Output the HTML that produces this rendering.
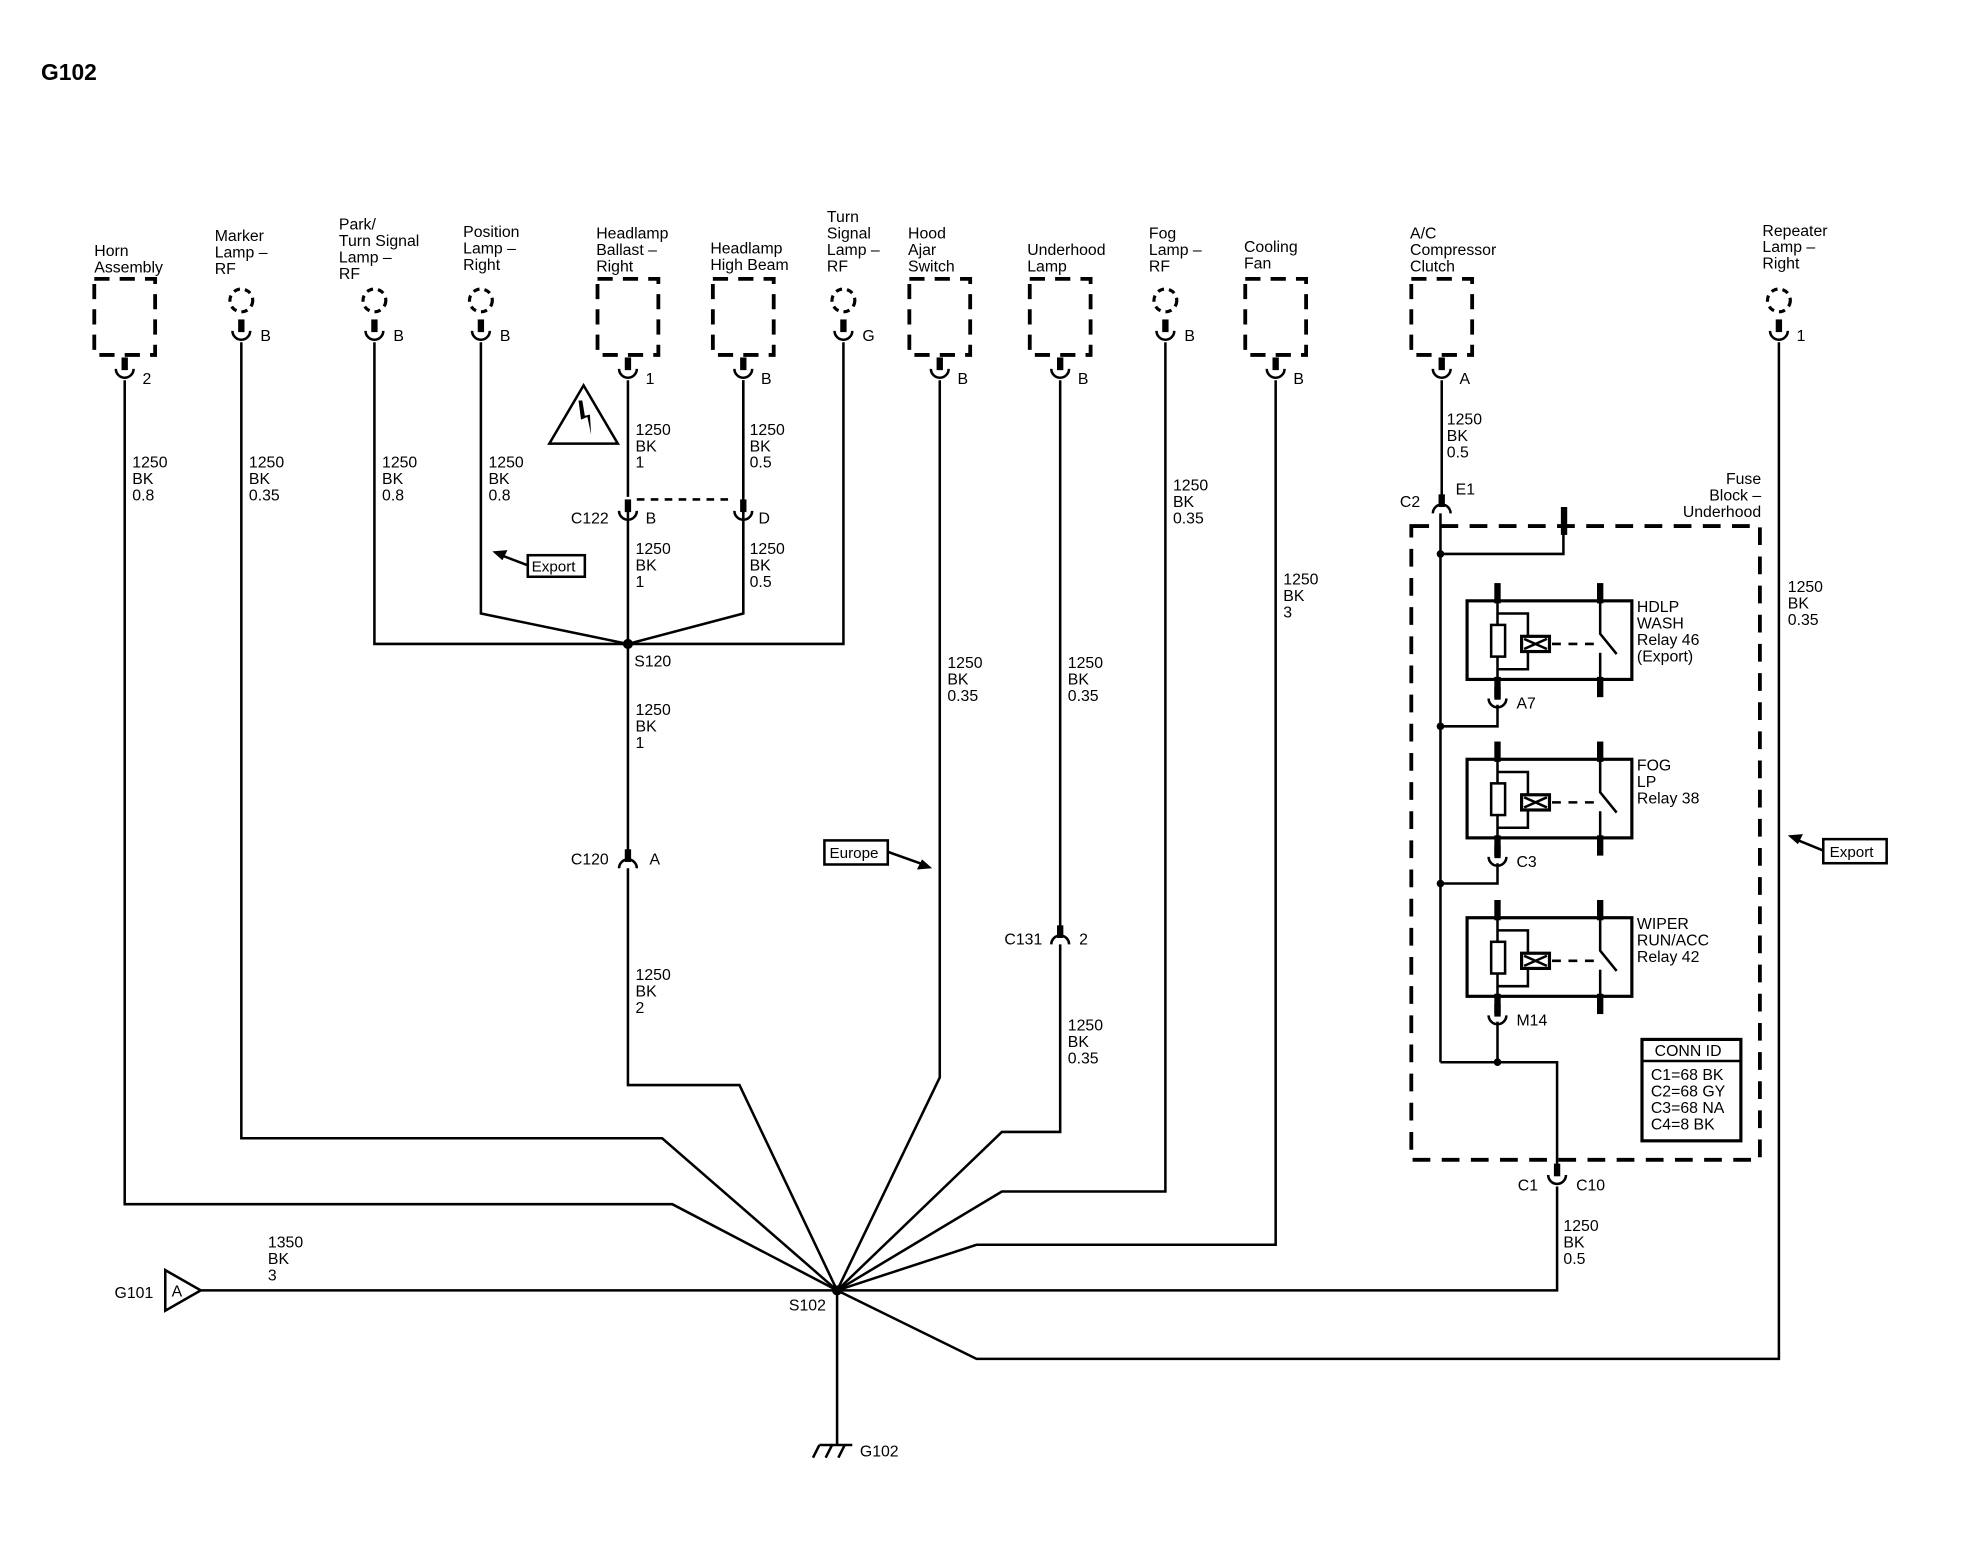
<!DOCTYPE html>
<html><head><meta charset="utf-8"><style>
html,body{margin:0;padding:0;background:#fff}
svg{display:block}
text{font-family:"Liberation Sans",Arial,sans-serif;font-size:12.5px;fill:#000}
</style></head><body>
<svg width="1986" height="1568" viewBox="0 0 1566 1237" xmlns="http://www.w3.org/2000/svg">
<defs>
<g id="cup"><rect x="-2.5" y="-12" width="5" height="10" fill="#000"/><path d="M-7,-3 A7,7 0 0 0 7,-3" fill="none" stroke="#000" stroke-width="2"/></g>
<g id="ilc"><path d="M-7,5 A7,7 0 0 1 7,5" fill="none" stroke="#000" stroke-width="2"/><rect x="-2.5" y="-10" width="5" height="10" fill="#000"/></g>
<g id="dbox"><rect x="-24" y="0" width="48" height="60" fill="none" stroke="#000" stroke-width="3" stroke-dasharray="12,8"/></g>
<g id="lamp"><circle cx="0" cy="0" r="9" fill="none" stroke="#000" stroke-width="2.5" stroke-dasharray="5,4"/></g>
</defs>
<text x="32" y="63" style="font-size:18px;font-weight:bold">G102</text>
<g stroke="#000" stroke-width="2" fill="none">
<polyline points="98,300 98,950 530,950 660,1018"/>
<polyline points="190,270 190,898 522,898 660,1018"/>
<polyline points="295,270 295,508 665,508 665,270"/>
<polyline points="379,270 379,484 495,508"/>
<polyline points="586,300 586,484 495,508"/>
<line x1="495" y1="300" x2="495" y2="392"/>
<line x1="586" y1="300" x2="586" y2="392"/>
<line x1="495" y1="400" x2="495" y2="675"/>
<line x1="586" y1="400" x2="586" y2="484"/>
<line x1="502" y1="394" x2="578" y2="394" stroke-dasharray="6,5"/>
<polyline points="495,685 495,856 583,856 660,1018"/>
<polyline points="741,300 741,850 660,1018"/>
<polyline points="836,300 836,734"/>
<polyline points="836,745 836,893 790,893 660,1018"/>
<polyline points="919,270 919,940 790,940 660,1018"/>
<polyline points="1006,300 1006,982 770,982 660,1018"/>
<polyline points="1403,270 1403,1072 770,1072 660,1018"/>
<polyline points="158,1018 1228,1018 1228,936"/>
<line x1="660" y1="1018" x2="660" y2="1140"/>
<line x1="1137" y1="300" x2="1137" y2="395"/>
<rect x="1113" y="415" width="275" height="500" stroke-width="3" stroke-dasharray="14,9"/>
<line x1="1136" y1="405" x2="1136" y2="838"/>
<polyline points="1136,437 1233,437 1233,403"/>
<polyline points="1181,556 1181,573 1136,573"/>
<polyline points="1181,681 1181,697 1136,697"/>
<polyline points="1181,806 1181,838 1136,838"/>
<polyline points="1181,838 1228,838 1228,922"/>
</g>
<g fill="#000">
<circle cx="495" cy="508" r="4"/><circle cx="660" cy="1018" r="4"/>
<circle cx="1136" cy="437" r="3"/><circle cx="1136" cy="573" r="3"/><circle cx="1136" cy="697" r="3"/><circle cx="1181" cy="838" r="3"/>
<rect x="1231" y="400" width="5" height="22"/>
</g>
<use href="#dbox" x="98" y="220"/><use href="#dbox" x="495" y="220"/><use href="#dbox" x="586" y="220"/>
<use href="#dbox" x="741" y="220"/><use href="#dbox" x="836" y="220"/><use href="#dbox" x="1006" y="220"/><use href="#dbox" x="1137" y="220"/>
<use href="#cup" x="98" y="294"/><use href="#cup" x="495" y="294"/><use href="#cup" x="586" y="294"/>
<use href="#cup" x="741" y="294"/><use href="#cup" x="836" y="294"/><use href="#cup" x="1006" y="294"/><use href="#cup" x="1137" y="294"/>
<use href="#lamp" x="190" y="237"/><use href="#lamp" x="295" y="237"/><use href="#lamp" x="379" y="237"/><use href="#lamp" x="665" y="237"/><use href="#lamp" x="919" y="237"/><use href="#lamp" x="1403" y="237"/>
<use href="#cup" x="190" y="264"/><use href="#cup" x="295" y="264"/><use href="#cup" x="379" y="264"/><use href="#cup" x="665" y="264"/><use href="#cup" x="919" y="264"/><use href="#cup" x="1403" y="264"/>
<use href="#cup" x="495" y="406"/><use href="#cup" x="586" y="406"/>
<use href="#ilc" x="495" y="680"/><use href="#ilc" x="836" y="740"/><use href="#ilc" x="1137" y="400"/>
<use href="#cup" x="1228" y="930"/>
<use href="#cup" x="1181" y="554"/><use href="#cup" x="1181" y="679"/><use href="#cup" x="1181" y="804"/>
<g id="relay" stroke="#000" fill="none">
<rect x="1157" y="474" width="130" height="62" stroke-width="2.5"/>
<line x1="1181" y1="460" x2="1181" y2="476" stroke-width="5"/>
<line x1="1181" y1="534" x2="1181" y2="550" stroke-width="5"/>
<line x1="1262" y1="460" x2="1262" y2="476" stroke-width="5"/>
<line x1="1262" y1="534" x2="1262" y2="550" stroke-width="5"/>
<line x1="1181" y1="474" x2="1181" y2="536" stroke-width="2"/>
<rect x="1176" y="493" width="11" height="25" fill="#fff" stroke-width="2"/>
<polyline points="1181,484 1205,484 1205,528 1181,528" stroke-width="2"/>
<rect x="1200" y="502" width="22" height="12" fill="#fff" stroke-width="2.5"/>
<path d="M1202,504 L1220,512 M1202,512 L1220,504" stroke-width="2"/>
<line x1="1224" y1="508" x2="1258" y2="508" stroke-width="2" stroke-dasharray="7,6"/>
<polyline points="1262,474 1262,500 1275,516" stroke-width="2"/>
<line x1="1262" y1="515" x2="1262" y2="536" stroke-width="2"/>
</g>
<use href="#relay" y="125"/><use href="#relay" y="250"/>
<rect x="1295" y="820" width="78" height="80" fill="none" stroke="#000" stroke-width="2.5"/>
<line x1="1295" y1="837" x2="1373" y2="837" stroke="#000" stroke-width="2"/>
<path d="M460,304 L433,350 L487,350 Z" fill="none" stroke="#000" stroke-width="2"/>
<path d="M456,316 L458,331 L463,329 L466,343 L465,327 L461,328 L459,316 Z" fill="#000"/>
<path d="M130,1002 L158,1018 L130,1034 Z" fill="none" stroke="#000" stroke-width="2"/>
<g stroke="#000" stroke-width="2"><line x1="646" y1="1140" x2="672" y2="1140"/><line x1="646" y1="1140" x2="641" y2="1150"/><line x1="656" y1="1140" x2="651" y2="1150"/><line x1="666" y1="1140" x2="661" y2="1150"/></g>
<g stroke="#000" stroke-width="2" fill="none">
<rect x="416" y="438" width="45" height="17"/><line x1="416" y1="446" x2="395" y2="438"/>
<rect x="650" y="663" width="50" height="19"/><line x1="700" y1="672" x2="728" y2="682"/>
<rect x="1438" y="662" width="50" height="19"/><line x1="1438" y1="671" x2="1416" y2="662"/>
</g>
<g fill="#000"><path d="M388,435 L400,434 L396,442 Z"/><path d="M735,685 L723,686 L727,678 Z"/><path d="M1410,659 L1422,658 L1418,666 Z"/></g>
<g>
<text x="74" y="202">Horn</text><text x="74" y="215">Assembly</text>
<text x="169" y="190">Marker</text><text x="169" y="203">Lamp –</text><text x="169" y="216">RF</text>
<text x="267" y="181">Park/</text><text x="267" y="194">Turn Signal</text><text x="267" y="207">Lamp –</text><text x="267" y="220">RF</text>
<text x="365" y="187">Position</text><text x="365" y="200">Lamp –</text><text x="365" y="213">Right</text>
<text x="470" y="188">Headlamp</text><text x="470" y="201">Ballast –</text><text x="470" y="214">Right</text>
<text x="560" y="200">Headlamp</text><text x="560" y="213">High Beam</text>
<text x="652" y="175">Turn</text><text x="652" y="188">Signal</text><text x="652" y="201">Lamp –</text><text x="652" y="214">RF</text>
<text x="716" y="188">Hood</text><text x="716" y="201">Ajar</text><text x="716" y="214">Switch</text>
<text x="810" y="201">Underhood</text><text x="810" y="214">Lamp</text>
<text x="906" y="188">Fog</text><text x="906" y="201">Lamp –</text><text x="906" y="214">RF</text>
<text x="981" y="199">Cooling</text><text x="981" y="212">Fan</text>
<text x="1112" y="188">A/C</text><text x="1112" y="201">Compressor</text><text x="1112" y="214">Clutch</text>
<text x="1390" y="186">Repeater</text><text x="1390" y="199">Lamp –</text><text x="1390" y="212">Right</text>
<text x="112" y="303">2</text><text x="205" y="269">B</text><text x="310" y="269">B</text><text x="394" y="269">B</text>
<text x="509" y="303">1</text><text x="600" y="303">B</text><text x="680" y="269">G</text><text x="755" y="303">B</text>
<text x="850" y="303">B</text><text x="934" y="269">B</text><text x="1020" y="303">B</text><text x="1151" y="303">A</text><text x="1417" y="269">1</text>
<text x="104" y="369">1250</text><text x="104" y="382">BK</text><text x="104" y="395">0.8</text>
<text x="196" y="369">1250</text><text x="196" y="382">BK</text><text x="196" y="395">0.35</text>
<text x="301" y="369">1250</text><text x="301" y="382">BK</text><text x="301" y="395">0.8</text>
<text x="385" y="369">1250</text><text x="385" y="382">BK</text><text x="385" y="395">0.8</text>
<text x="501" y="343">1250</text><text x="501" y="356">BK</text><text x="501" y="369">1</text>
<text x="591" y="343">1250</text><text x="591" y="356">BK</text><text x="591" y="369">0.5</text>
<text x="450" y="413">C122</text><text x="509" y="413">B</text><text x="598" y="413">D</text>
<text x="501" y="437">1250</text><text x="501" y="450">BK</text><text x="501" y="463">1</text>
<text x="591" y="437">1250</text><text x="591" y="450">BK</text><text x="591" y="463">0.5</text>
<text x="419" y="451" style="font-size:12px">Export</text>
<text x="500" y="526">S120</text>
<text x="501" y="564">1250</text><text x="501" y="577">BK</text><text x="501" y="590">1</text>
<text x="450" y="682">C120</text><text x="512" y="682">A</text>
<text x="501" y="773">1250</text><text x="501" y="786">BK</text><text x="501" y="799">2</text>
<text x="654" y="677" style="font-size:12px">Europe</text>
<text x="747" y="527">1250</text><text x="747" y="540">BK</text><text x="747" y="553">0.35</text>
<text x="842" y="527">1250</text><text x="842" y="540">BK</text><text x="842" y="553">0.35</text>
<text x="792" y="745">C131</text><text x="851" y="745">2</text>
<text x="842" y="813">1250</text><text x="842" y="826">BK</text><text x="842" y="839">0.35</text>
<text x="925" y="387">1250</text><text x="925" y="400">BK</text><text x="925" y="413">0.35</text>
<text x="1012" y="461">1250</text><text x="1012" y="474">BK</text><text x="1012" y="487">3</text>
<text x="1141" y="335">1250</text><text x="1141" y="348">BK</text><text x="1141" y="361">0.5</text>
<text x="1104" y="400">C2</text><text x="1148" y="390">E1</text>
<text x="1389" y="382" text-anchor="end">Fuse</text><text x="1389" y="395" text-anchor="end">Block –</text><text x="1389" y="408" text-anchor="end">Underhood</text>
<text x="1410" y="467">1250</text><text x="1410" y="480">BK</text><text x="1410" y="493">0.35</text>
<text x="1443" y="676" style="font-size:12px">Export</text>
<text x="1291" y="483">HDLP</text><text x="1291" y="496">WASH</text><text x="1291" y="509">Relay 46</text><text x="1291" y="522">(Export)</text>
<text x="1196" y="559">A7</text>
<text x="1291" y="608">FOG</text><text x="1291" y="621">LP</text><text x="1291" y="634">Relay 38</text>
<text x="1196" y="684">C3</text>
<text x="1291" y="733">WIPER</text><text x="1291" y="746">RUN/ACC</text><text x="1291" y="759">Relay 42</text>
<text x="1196" y="809">M14</text>
<text x="1305" y="833">CONN ID</text>
<text x="1302" y="852">C1=68 BK</text><text x="1302" y="865">C2=68 GY</text><text x="1302" y="878">C3=68 NA</text><text x="1302" y="891">C4=8 BK</text>
<text x="1197" y="939">C1</text><text x="1243" y="939">C10</text>
<text x="1233" y="971">1250</text><text x="1233" y="984">BK</text><text x="1233" y="997">0.5</text>
<text x="211" y="984">1350</text><text x="211" y="997">BK</text><text x="211" y="1010">3</text>
<text x="90" y="1024">G101</text><text x="135" y="1023">A</text>
<text x="622" y="1034">S102</text>
<text x="678" y="1149">G102</text>
</g>
</svg>
</body></html>
